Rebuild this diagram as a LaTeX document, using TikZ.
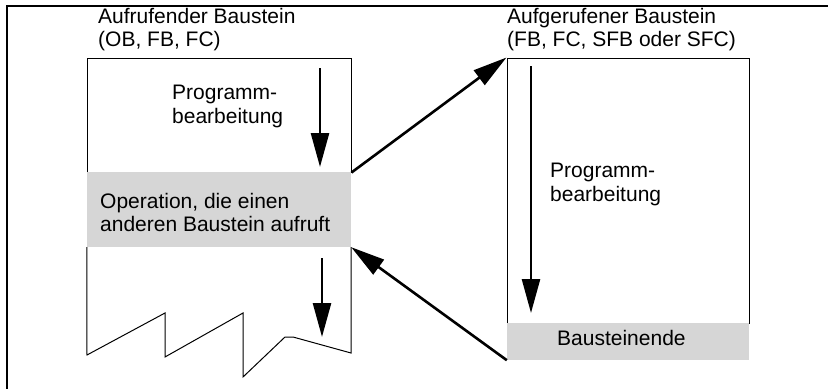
\documentclass[tikz,border=0pt]{standalone}
\usepackage{fontspec}
\setmainfont{Liberation Sans}
\usetikzlibrary{arrows.meta}
\definecolor{opgray}{RGB}{214,214,214}
\begin{document}
\begin{tikzpicture}[x=1pt,y=-1pt,
  txt/.style={inner sep=0pt,anchor=north west,align=left,font=\fontsize{21}{23.5}\selectfont},
  boxw/.style={draw=black,line width=1pt,fill=white,inner sep=0pt},
  boxg/.style={fill=opgray,draw=none,inner sep=0pt},
  bigarrow/.style={line width=2.6pt,-{Triangle[length=34pt,width=18pt]}},
  frameline/.style={line width=2pt}]
\useasboundingbox (0,0) rectangle (828,389);
% outer frame (top and left)
\draw[frameline] (828,5.5) -- (7,5.5) -- (7,389);
% left block
\node[boxw,minimum width=264pt,minimum height=114pt] (lbox) at (219,115) {};
\node[boxg,minimum width=264pt,minimum height=75pt] (lop) at (219,209.5) {};
\draw[line width=1pt] (lop.south west) -- (87,355) -- (165,313) -- (165,357) -- (243,313) -- (243,377) -- (285,337) -- (293,337) -- (351,353) -- (lop.south east);
% right block
\node[boxw,minimum width=242pt,minimum height=265pt] (rbox) at (628,190.5) {};
\node[boxg,minimum width=242pt,minimum height=37pt] (rend) at (628,341.5) {};
% texts
\node[txt] (t1) at (98,8) {Aufrufender Baustein\\(OB, FB, FC)};
\node[txt] (t2) at (507,8) {Aufgerufener Baustein\\(FB, FC, SFB oder SFC)};
\node[txt] (t3) at (172,85) {Programm-\\bearbeitung};
\node[txt] (t4) at (100,193) {Operation, die einen\\anderen Baustein aufruft};
\node[txt] (t5) at (550,163) {Programm-\\bearbeitung};
\node[txt] (t6) at (557,330) {Bausteinende};
% vertical arrows
\coordinate (a1s) at (320,68);
\coordinate (a1e) at (320,167);
\coordinate (a2s) at (322,258);
\coordinate (a2e) at (322,337);
\coordinate (a3s) at (531,66);
\coordinate (a3e) at (531,313);
\draw[bigarrow] (a1s) -- (a1e);
\draw[bigarrow] (a2s) -- (a2e);
\draw[bigarrow] (a3s) -- (a3e);
% call and return arrows
\draw[bigarrow] (lbox.south east) -- (rbox.north west);
\draw[bigarrow] (rend.south west) -- (lop.south east);
\end{tikzpicture}
\end{document}
